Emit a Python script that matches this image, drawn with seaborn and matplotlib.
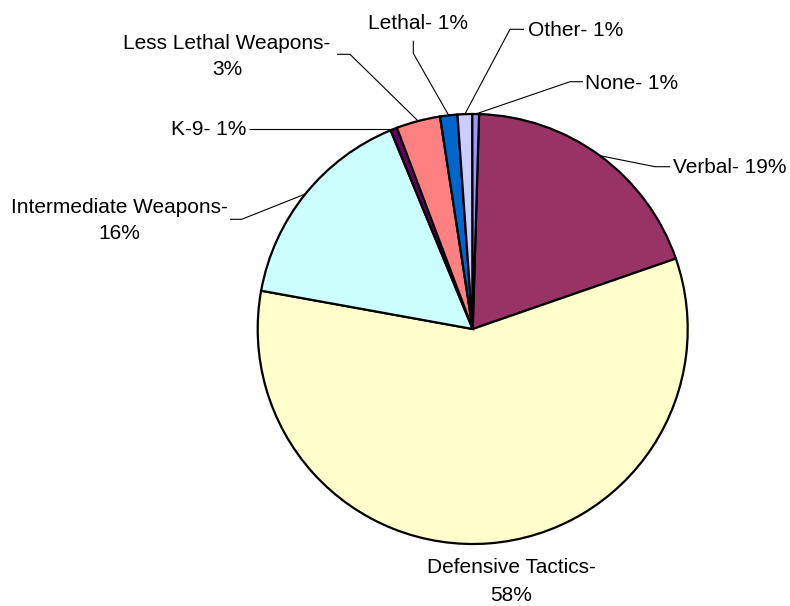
import numpy as np
import matplotlib
matplotlib.use("Agg")
import matplotlib.pyplot as plt
import seaborn as sns

# ---- data ----
categories = ["Verbal", "Defensive Tactics", "Intermediate Weapons", "K-9",
              "Less Lethal Weapons", "Lethal", "Other", "None"]
values = [19.2, 58.1, 15.9, 0.5, 3.3, 1.3, 1.1, 0.5]
pct_labels = ["19%", "58%", "16%", "1%", "3%", "1%", "1%", "1%"]
colors = ["#993366", "#FFFFCC", "#CCFFFF", "#660066",
          "#FF8080", "#0066CC", "#CCCCFF", "#9999FF"]

sns.set_theme(style="white")
plt.rcParams["font.family"] = ["Liberation Sans", "DejaVu Sans"]

W, H = 790, 606
CX, CY, R = 472.7, 329.0, 215.0

fig = plt.figure(figsize=(W / 100, H / 100), dpi=100, facecolor="white")
ax = fig.add_axes([0, 0, 1, 1])

wedges, _ = ax.pie(values, colors=sns.color_palette(colors), startangle=88.3,
                   counterclock=False, radius=1, center=(0, 0),
                   wedgeprops=dict(edgecolor="black", linewidth=1.6))

ax.set_xlim(-CX / R, (W - CX) / R)
ax.set_ylim((CY - H) / R, CY / R)
ax.set_aspect("equal")
ax.axis("off")


def P(px, py):
    return (px - CX) / R, (CY - py) / R


# label layout (pixel positions): list of (x, baseline y, text) lines, ha, leader elbow points
layout = {
    "Verbal": dict(lines=[(672.7, 173.3)], ha="left", leader=[(655, 166.7), (670, 166.7)],
                   split=False),
    "Defensive Tactics": dict(lines=[(511, 573.3), (511, 601.0)], ha="center", leader=None,
                              split=True),
    "Intermediate Weapons": dict(lines=[(119, 213.3), (119, 239.0)], ha="center",
                                 leader=[(241.7, 219.3), (230, 219.3)], split=True),
    "K-9": dict(lines=[(246.5, 135.0)], ha="right", leader=[(249, 130)], split=False),
    "Less Lethal Weapons": dict(lines=[(227, 49.3), (227, 75.0)], ha="center",
                                leader=[(350, 54.3), (337, 54.3)], split=True),
    "Lethal": dict(lines=[(418, 29.0)], ha="center", leader=[(413.3, 53.3), (413.3, 40.7)],
                   split=False),
    "Other": dict(lines=[(527.7, 35.7)], ha="left", leader=[(510, 29.3), (524, 29.3)],
                  split=False),
    "None": dict(lines=[(585, 89.3)], ha="left", leader=[(570, 81.7), (583, 81.7)],
                 split=False),
}

for w, cat, pl in zip(wedges, categories, pct_labels):
    lay = layout[cat]
    if lay["split"]:
        texts = [f"{cat}-", pl]
    else:
        texts = [f"{cat}- {pl}"]
    for (px, py), t in zip(lay["lines"], texts):
        x, y = P(px, py)
        ax.text(x, y, t, ha=lay["ha"], va="baseline", fontsize=15, color="black")
    if lay["leader"]:
        mid = np.deg2rad((w.theta1 + w.theta2) / 2)
        xs = [np.cos(mid)]
        ys = [np.sin(mid)]
        for px, py in lay["leader"]:
            x, y = P(px, py)
            xs.append(x)
            ys.append(y)
        if cat == "K-9":
            ys[1] = ys[0]
        ax.plot(xs, ys, color="black", linewidth=0.8, solid_capstyle="butt")

fig.savefig("out.png", dpi=100, facecolor="white")
